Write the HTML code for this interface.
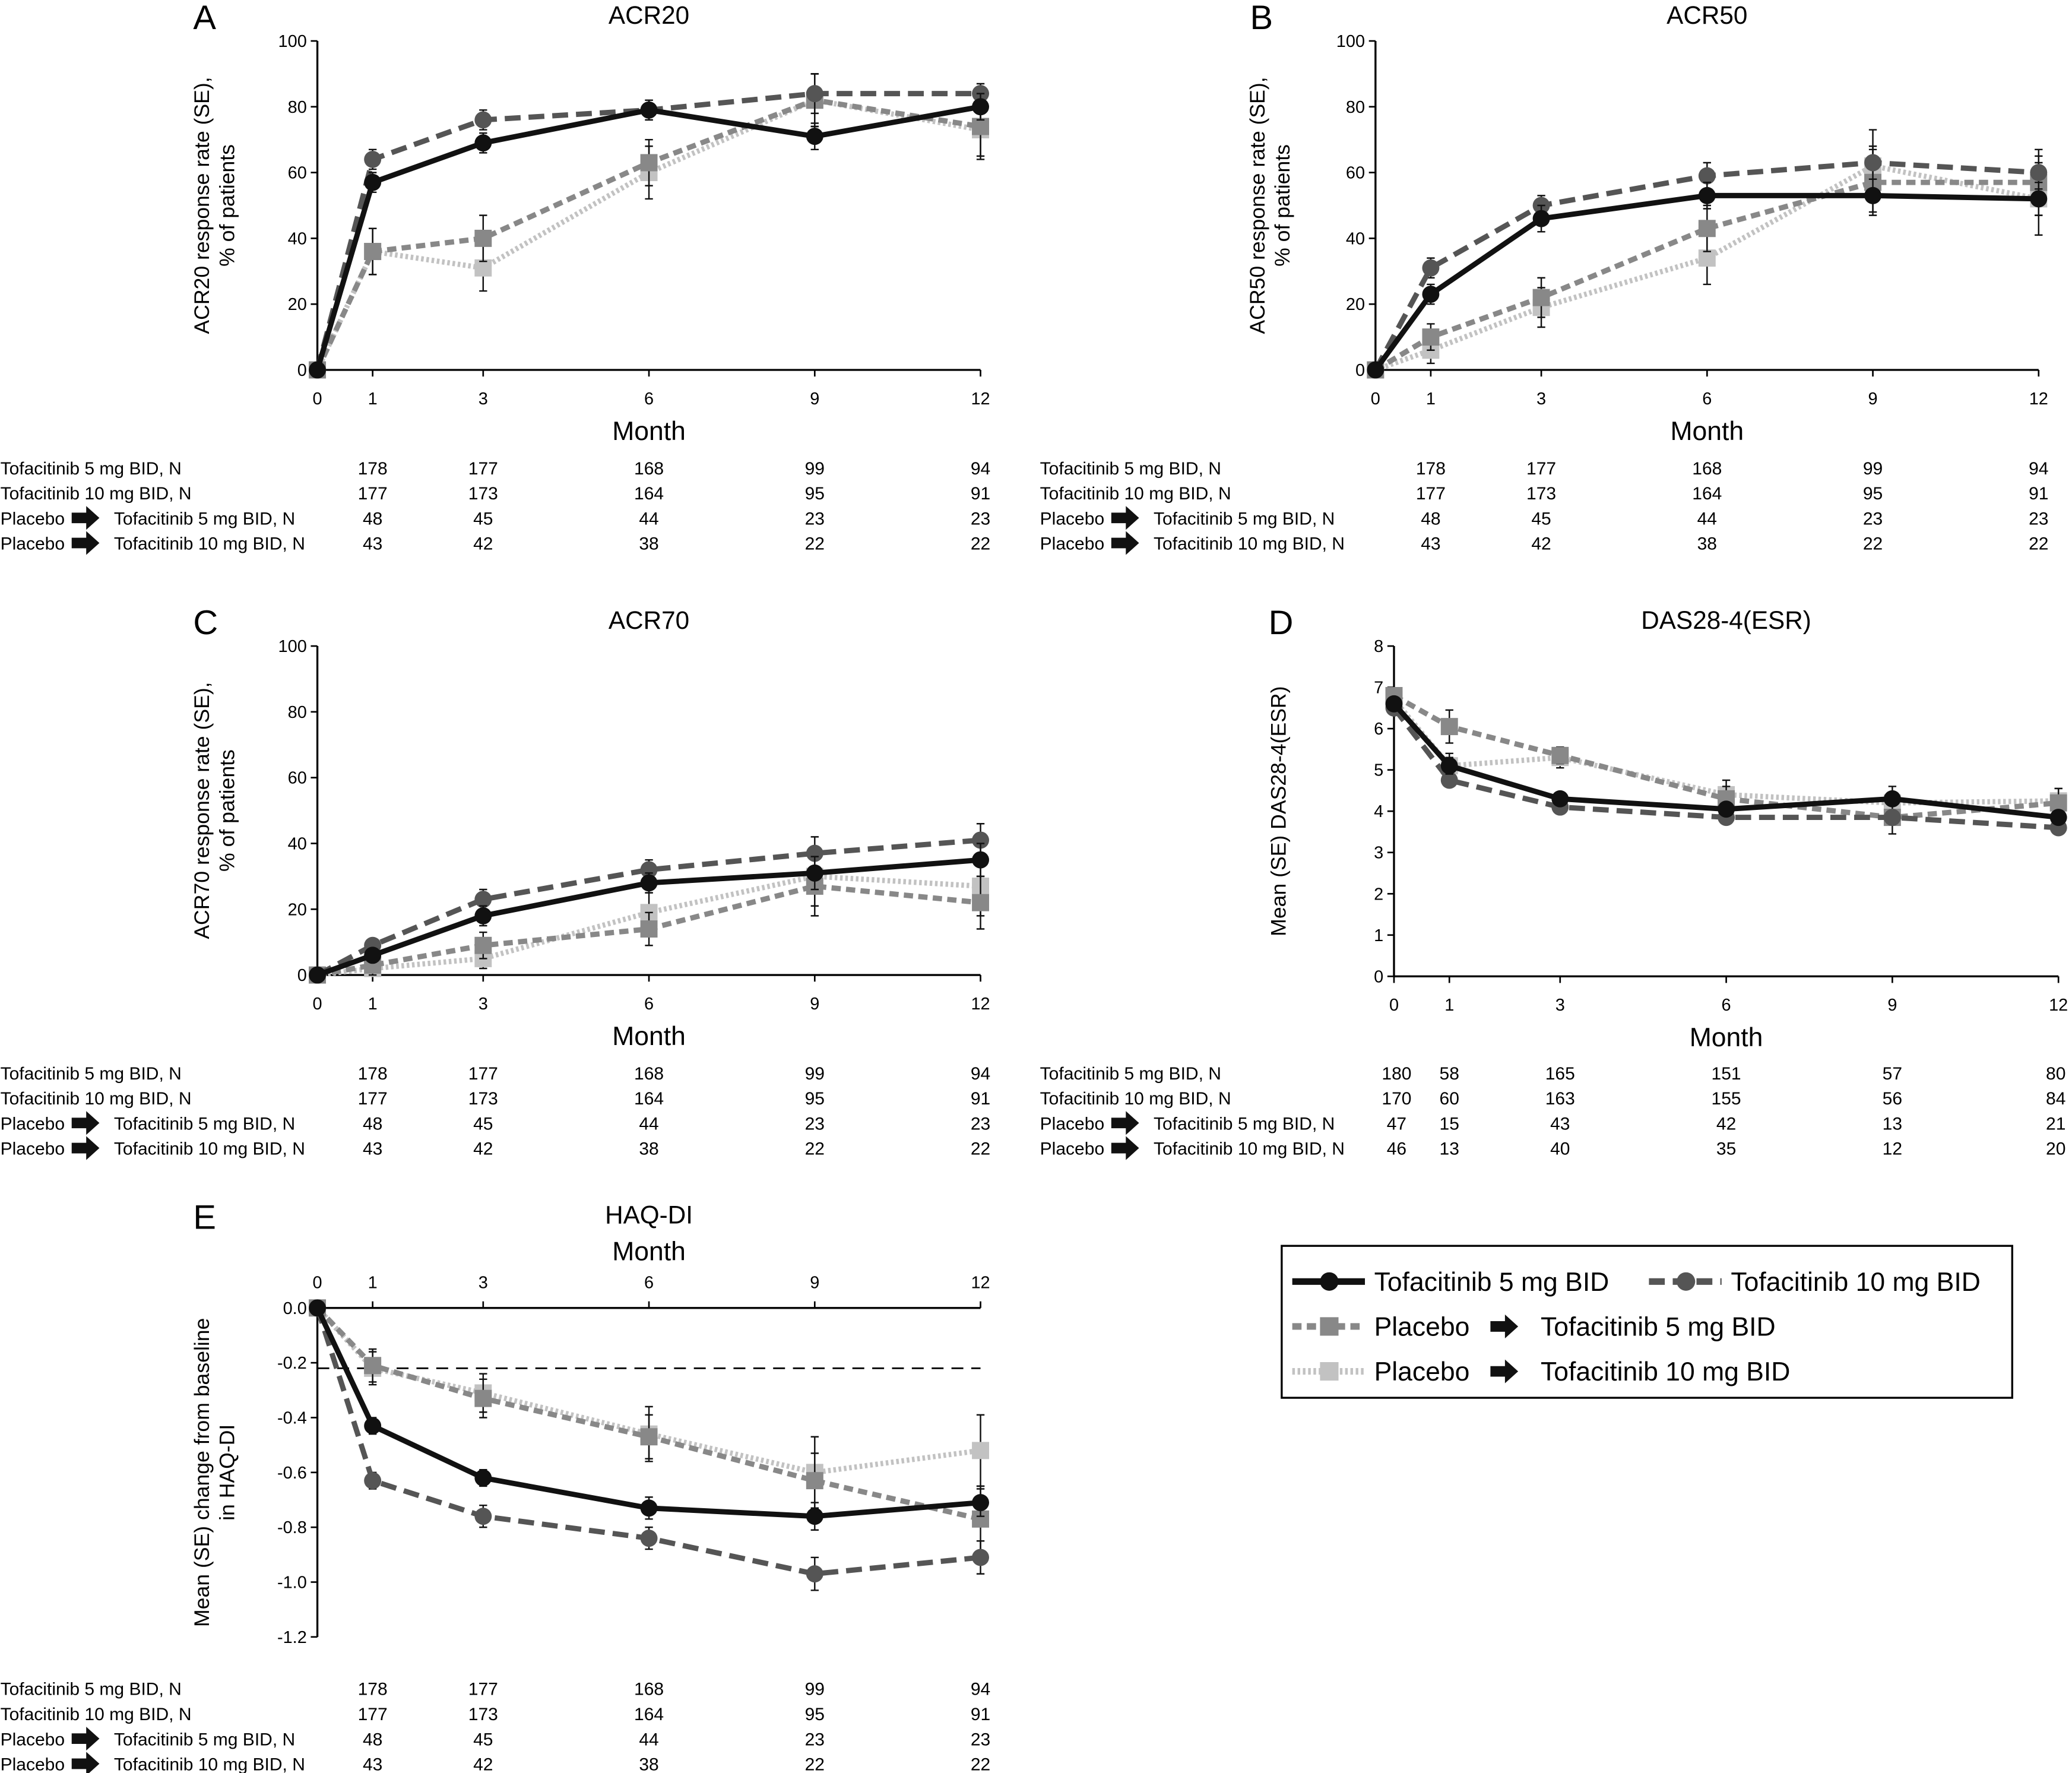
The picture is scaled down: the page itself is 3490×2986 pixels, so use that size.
<!DOCTYPE html>
<html><head><meta charset="utf-8"><style>
html,body{margin:0;padding:0;background:#fff}
svg{display:block}
text{font-family:"Liberation Sans",sans-serif;fill:#000}
</style></head><body>
<svg id="fig" width="3490" height="2986" viewBox="0 0 1568 1342" xmlns="http://www.w3.org/2000/svg"></svg>
<script>
const months=[0,1,3,6,9,12];
const seriesNames=["Tofacitinib 5 mg BID","Tofacitinib 10 mg BID","Placebo → Tofacitinib 5 mg BID","Placebo → Tofacitinib 10 mg BID"];
// ACR20
const acr20_t5=[0,57,69,79,71,80];
const acr20_t10=[0,64,76,79,84,84];
const acr20_p5=[0,36,40,63,82,74];
const acr20_p10=[0,36,31,60,82,73];
const acr20_se=[[0,3,3,3,4,4],[0,3,3,3,6,3],[0,7,7,7,8,9],[0,7,7,8,8,9]];
// ACR50
const acr50_t5=[0,23,46,53,53,52];
const acr50_t10=[0,31,50,59,63,60];
const acr50_p5=[0,10,22,43,57,57];
const acr50_p10=[0,6,19,34,62,52];
const acr50_se=[[0,3,4,4,5,5],[0,3,3,4,5,5],[0,4,6,7,10,10],[0,4,6,8,11,11]];
// ACR70
const acr70_t5=[0,6,18,28,31,35];
const acr70_t10=[0,9,23,32,37,41];
const acr70_p5=[0,3,9,14,27,22];
const acr70_p10=[0,2,5,19,30,27];
const acr70_se=[[0,2,3,3,5,5],[0,2,3,3,5,5],[0,3,4,5,9,8],[0,2,3,6,9,9]];
// DAS28
const das_t5=[6.6,5.1,4.3,4.05,4.3,3.85];
const das_t10=[6.5,4.75,4.1,3.85,3.85,3.6];
const das_p5=[6.8,6.05,5.35,4.3,3.85,4.2];
const das_p10=[6.7,5.1,5.3,4.4,4.2,4.25];
const das_se=[[0.1,0.2,0.1,0.1,0.15,0.15],[0.1,0.15,0.1,0.1,0.15,0.15],[0.15,0.4,0.2,0.3,0.4,0.35],[0.15,0.3,0.25,0.35,0.4,0.3]];
// HAQ-DI
const haq_t5=[0,-0.43,-0.62,-0.73,-0.76,-0.71];
const haq_t10=[0,-0.63,-0.76,-0.84,-0.97,-0.91];
const haq_p5=[0,-0.21,-0.33,-0.47,-0.63,-0.77];
const haq_p10=[0,-0.22,-0.31,-0.46,-0.6,-0.52];
const haq_se=[[0,0.03,0.03,0.04,0.05,0.05],[0,0.03,0.04,0.04,0.06,0.06],[0,0.06,0.07,0.08,0.1,0.12],[0,0.06,0.07,0.1,0.13,0.13]];
// N tables
const nAcr=[[178,177,168,99,94],[177,173,164,95,91],[48,45,44,23,23],[43,42,38,22,22]];
const nDas=[[180,58,165,151,57,80],[170,60,163,155,56,84],[47,15,43,42,13,21],[46,13,40,35,12,20]];
const rowLabels=["Tofacitinib 5 mg BID, N","Tofacitinib 10 mg BID, N","Tofacitinib 5 mg BID, N","Tofacitinib 10 mg BID, N"];

const svg=document.getElementById('fig');
const NS="http://www.w3.org/2000/svg";
function el(tag,attrs,parent){const e=document.createElementNS(NS,tag);for(const k in attrs)e.setAttribute(k,attrs[k]);(parent||svg).appendChild(e);return e;}
function txt(x,y,s,size,anchor,parent,extra){const t=el('text',Object.assign({x:x,y:y,'font-size':size,'text-anchor':anchor||'start'},extra||{}),parent);t.textContent=s;return t;}
function arrow(x,y,g){el('path',{d:`M${x} ${y-4}h11v-5l10 9l-10 9v-5h-11z`,fill:'#111'},g);}

const styles=[
 {stroke:'#111',w:4,dash:'',m:'circle',fill:'#111'},
 {stroke:'#555',w:4,dash:'12,6',m:'circle',fill:'#555'},
 {stroke:'#888',w:4,dash:'7,4',m:'square',fill:'#888'},
 {stroke:'#c2c2c2',w:4,dash:'2,2',m:'square',fill:'#c2c2c2'}];

function panel(o){
  const g=el('g',{});
  
  
  const xs=m=>o.x0+(o.x1-o.x0)*m/12;
  const ys=v=>o.yb+(o.yt-o.yb)*(v-o.ymin)/(o.ymax-o.ymin);
  const ax=el('g',{},g);
  const xy= o.top? ys(o.ymax): ys(o.ymin);
  el('line',{x1:o.x0,y1:o.yt,x2:o.x0,y2:o.yb,stroke:'#000','stroke-width':1.5},ax);
  el('line',{x1:o.x0,y1:xy,x2:o.x1,y2:xy,stroke:'#000','stroke-width':1.5},ax);
  o.yticks.forEach(v=>{const y=ys(v);el('line',{x1:o.x0-5,y1:y,x2:o.x0,y2:y,stroke:'#000','stroke-width':1.2},ax);
    const t=txt(o.x0-8,y+4.5,o.fmt?o.fmt(v):String(v),13,'end',ax);});
  months.forEach(m=>{const x=xs(m);
    if(o.top){el('line',{x1:x,y1:xy-5,x2:x,y2:xy,stroke:'#000','stroke-width':1.2},ax);const t=txt(x,xy-15,String(m),13,'middle',ax);}
    else{el('line',{x1:x,y1:xy,x2:x,y2:xy+5,stroke:'#000','stroke-width':1.2},ax);const t=txt(x,xy+26,String(m),13,'middle',ax);}});
  const mt=txt((o.x0+o.x1)/2,o.top?o.yt-36:o.yb+53,'Month',20,'middle',g);
  
  const tt=txt((o.x0+o.x1)/2,o.titleY,o.title,19,'middle',g);
  
  const lt=txt(o.letterX,o.titleY+4,o.letter,26,'start',g);
  
  const yl=el('text',{transform:`translate(${o.ylx},${(o.yt+o.yb)/2}) rotate(-90)`,'font-size':16,'text-anchor':'middle'},g);
  
  o.ylab.forEach((s,i)=>{const ts=el('tspan',{x:0,dy:i==0?0:19},yl);ts.textContent=s;});
  if(o.ref!==undefined){const r=el('line',{x1:o.x0,y1:ys(o.ref),x2:o.x1,y2:ys(o.ref),stroke:'#000','stroke-width':1.2,'stroke-dasharray':'9,6'},g);}
  [3,2,1,0].forEach(si=>{
    const st=styles[si],vals=o.data[si],se=o.se[si];
    const sg=el('g',{},g);
    vals.forEach((v,i)=>{if(se[i]>0){const x=xs(months[i]);const a=ys(v+se[i]),b=ys(v-se[i]);
      el('path',{d:`M${x} ${a}V${b}M${x-3} ${a}h6M${x-3} ${b}h6`,stroke:'#111','stroke-width':1.1,fill:'none'},sg);}});
    const pts=vals.map((v,i)=>xs(months[i])+','+ys(v)).join(' ');
    const pl=el('polyline',{points:pts,fill:'none',stroke:st.stroke,'stroke-width':st.w,'stroke-dasharray':st.dash},sg);
    
    vals.forEach((v,i)=>{const x=xs(months[i]),y=ys(v);let mk;
      if(st.m=='circle')mk=el('circle',{cx:x,cy:y,r:6.5,fill:st.fill},sg);
      else mk=el('rect',{x:x-6.5,y:y-6.5,width:13,height:13,fill:st.fill},sg);
      });
  });
  const tg=el('g',{},g);
  o.n.forEach((row,r)=>{const y=o.tabY+r*19;
    if(r<2)txt(o.tabX,y,rowLabels[r],13.5,'start',tg);
    else{txt(o.tabX,y,'Placebo',13.5,'start',tg);arrow(o.tabX+54,y-5,tg);txt(o.tabX+86,y,rowLabels[r],13.5,'start',tg);}
    const ms=row.length==6?months:months.slice(1);
    row.forEach((n,i)=>{let x=xs(ms[i]);if(row.length==6&&i==0)x+=2;if(row.length==6&&i==5)x-=2;txt(x,y,String(n),13.5,'middle',tg);});
  });
}
const pctTicks=[0,20,40,60,80,100];
panel({name:'panel-a-acr20',x0:240,x1:742,yt:31,yb:280,ymin:0,ymax:100,yticks:pctTicks,title:'ACR20',titleY:18,letter:'A',letterX:146,ylx:158,ylab:['ACR20 response rate (SE),','% of patients'],data:[acr20_t5,acr20_t10,acr20_p5,acr20_p10],se:acr20_se,n:nAcr,tabX:0,tabY:359});
panel({name:'panel-b-acr50',x0:1041,x1:1543,yt:31,yb:280,ymin:0,ymax:100,yticks:pctTicks,title:'ACR50',titleY:18,letter:'B',letterX:946,ylx:957,ylab:['ACR50 response rate (SE),','% of patients'],data:[acr50_t5,acr50_t10,acr50_p5,acr50_p10],se:acr50_se,n:nAcr,tabX:787,tabY:359});
panel({name:'panel-c-acr70',x0:240,x1:742,yt:489,yb:738,ymin:0,ymax:100,yticks:pctTicks,title:'ACR70',titleY:476,letter:'C',letterX:146,ylx:158,ylab:['ACR70 response rate (SE),','% of patients'],data:[acr70_t5,acr70_t10,acr70_p5,acr70_p10],se:acr70_se,n:nAcr,tabX:0,tabY:817});
panel({name:'panel-d-das28',x0:1055,x1:1558,yt:489,yb:739,ymin:0,ymax:8,yticks:[0,1,2,3,4,5,6,7,8],title:'DAS28-4(ESR)',titleY:476,letter:'D',letterX:960,ylx:973,ylab:['Mean (SE) DAS28-4(ESR)'],data:[das_t5,das_t10,das_p5,das_p10],se:das_se,n:nDas,tabX:787,tabY:817});
panel({name:'panel-e-haq',x0:240,x1:742,yt:990,yb:1239,ymin:-1.2,ymax:0,top:true,ref:-0.22,yticks:[0,-0.2,-0.4,-0.6,-0.8,-1,-1.2],fmt:v=>v.toFixed(1),title:'HAQ-DI',titleY:926,letter:'E',letterX:146,ylx:158,ylab:['Mean (SE) change from baseline','in HAQ-DI'],data:[haq_t5,haq_t10,haq_p5,haq_p10],se:haq_se,n:nAcr,tabX:0,tabY:1283});

const lg=el('g',{});
el('rect',{x:970,y:943,width:553,height:115,fill:'none',stroke:'#000','stroke-width':1.5},lg);
function legItem(x,y,si,parts){
  const st=styles[si];const it=el('g',{},lg);
  
  
  el('line',{x1:x,y1:y,x2:x+55,y2:y,stroke:st.stroke,'stroke-width':st.w+1,'stroke-dasharray':st.dash},it);
  if(st.m=='circle')el('circle',{cx:x+28,cy:y,r:7,fill:st.fill},it);else el('rect',{x:x+21,y:y-7,width:14,height:14,fill:st.fill},it);
  if(parts.length==1)txt(x+62,y+7,parts[0],20,'start',it);
  else{txt(x+62,y+7,parts[0],20,'start',it);arrow(x+150,y,it);txt(x+188,y+7,parts[1],20,'start',it);}
}
legItem(978,970,0,['Tofacitinib 5 mg BID']);
legItem(1248,970,1,['Tofacitinib 10 mg BID']);
legItem(978,1004,2,['Placebo','Tofacitinib 5 mg BID']);
legItem(978,1038,3,['Placebo','Tofacitinib 10 mg BID']);
</script>
</body></html>
